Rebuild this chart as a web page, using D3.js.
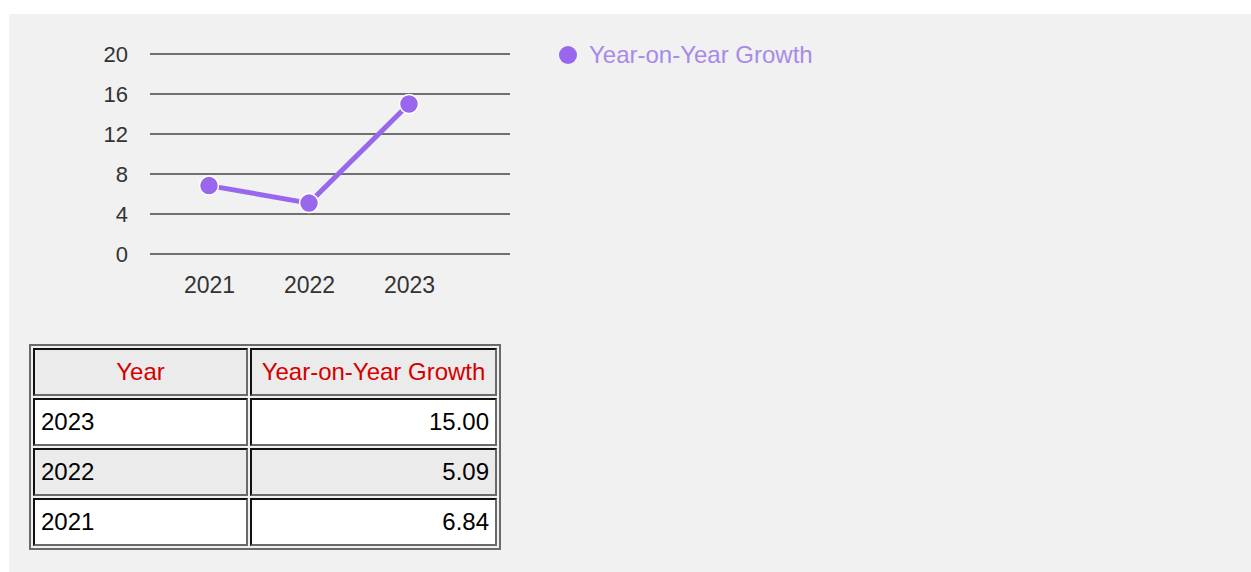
<!DOCTYPE html>
<html>
<head>
<meta charset="utf-8">
<script src="https://cdn.jsdelivr.net/npm/d3@7"></script>
<style>
	html, body { margin: 0; padding: 0; background: #fff; }
	body { font-family: "Liberation Sans", Arial, sans-serif; }
	#panel {
		position: absolute; left: 9px; top: 14px; width: 1242px; height: 558px;
		background: #f1f1f1;
	}
	#chart { position: absolute; left: 0; top: 0; }
	table.data {
		position: absolute; left: 20px; top: 330px;
		border: 2px solid #6a6a6a;
		border-spacing: 2px;
		border-collapse: separate;
		font-size: 24px;
	}
	table.data td, table.data th {
		border: 2px solid;
		border-color: #111 #6a6a6a #6a6a6a #111;
		height: 48px;
		padding: 0 6px;
		font-weight: normal;
		box-sizing: border-box;
	}
	table.data th { color: #d40000; background: #ebebeb; text-align: center; }
	table.data tr.odd td { background: #fff; }
	table.data tr.even td { background: #ebebeb; }
	table.data td.num { text-align: right; }
</style>
</head>
<body>
<div id="panel">
	<svg id="chart" width="1242" height="300"></svg>
</div>
<script>
const years = ['2021', '2022', '2023'],
	growth = [6.84, 5.09, 15.00],
	yTicks = [0, 4, 8, 12, 16, 20],
	seriesName = 'Year-on-Year Growth',
	headers = ['Year', 'Year-on-Year Growth'];

const LINE_COLOR = '#9966ee';

// plot area (inside panel coords)
const plotLeft = 141, plotRight = 501,
	plotTop = 40, plotBottom = 240;

const svg = d3.select('svg#chart');

const x = d3.scalePoint()
	.domain(years)
	.range([plotLeft + 59, plotLeft + 259]);

const y = d3.scaleLinear()
	.domain([0, 20])
	.range([plotBottom, plotTop]);

// grid lines
svg.append('g')
	.selectAll('line')
	.data(yTicks)
	.join('line')
	.attr('x1', plotLeft)
	.attr('x2', plotRight)
	.attr('y1', d => y(d))
	.attr('y2', d => y(d))
	.attr('stroke', '#707070')
	.attr('stroke-width', 2);

// y axis labels
const yAxis = svg.append('g')
	.attr('transform', `translate(${plotLeft - 22},0)`)
	.call(d3.axisLeft(y).tickValues(yTicks).tickSize(0).tickPadding(0));
yAxis.select('.domain').remove();
yAxis.selectAll('text')
	.attr('font-family', '"Liberation Sans", Arial, sans-serif')
	.attr('font-size', 22)
	.attr('fill', '#333');

// x axis labels
const xAxis = svg.append('g')
	.attr('transform', `translate(0,${plotBottom + 23})`)
	.call(d3.axisBottom(x).tickSize(0).tickPadding(0));
xAxis.select('.domain').remove();
xAxis.selectAll('text')
	.attr('font-family', '"Liberation Sans", Arial, sans-serif')
	.attr('font-size', 23)
	.attr('fill', '#333');

const points = years.map((yr, i) => ({ year: yr, value: growth[i] }));

svg.append('path')
	.datum(points)
	.attr('fill', 'none')
	.attr('stroke', LINE_COLOR)
	.attr('stroke-width', 5)
	.attr('d', d3.line().x(d => x(d.year)).y(d => y(d.value)));

svg.append('g')
	.selectAll('circle')
	.data(points)
	.join('circle')
	.attr('cx', d => x(d.year))
	.attr('cy', d => y(d.value))
	.attr('r', 9.5)
	.attr('fill', LINE_COLOR)
	.attr('stroke', '#fff')
	.attr('stroke-width', 1.5);

// legend
const legend = svg.append('g').attr('transform', 'translate(559,41)');
legend.append('circle')
	.attr('r', 9)
	.attr('fill', LINE_COLOR);
legend.append('text')
	.attr('x', 21)
	.attr('y', 8)
	.attr('font-family', '"Liberation Sans", Arial, sans-serif')
	.attr('font-size', 24)
	.attr('fill', '#a88ae8')
	.text(seriesName);

// table
const table = d3.select('#panel').append('table').attr('class', 'data');
table.append('tr')
	.selectAll('th')
	.data(headers)
	.join('th')
	.style('width', (d, i) => i === 0 ? '215px' : '247px')
	.text(d => d);

const rows = points.slice().reverse();
const tr = table.selectAll('tr.row')
	.data(rows)
	.join('tr')
	.attr('class', (d, i) => 'row ' + (i % 2 === 0 ? 'odd' : 'even'));
tr.append('td').text(d => d.year);
tr.append('td').attr('class', 'num').text(d => d.value.toFixed(2));
</script>
</body>
</html>
